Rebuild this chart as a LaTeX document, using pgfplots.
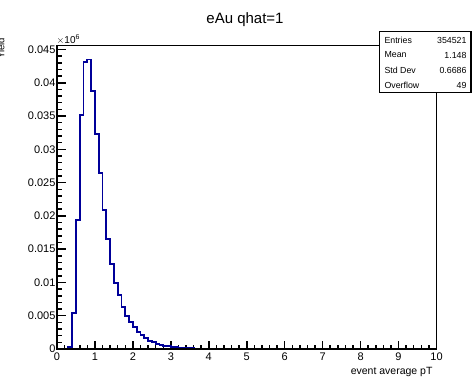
\documentclass[border=0pt]{standalone}
\usepackage{fontspec}
\setmainfont{Liberation Sans}
\usepackage{pgfplots}
\pgfplotsset{compat=1.18}
\definecolor{histblue}{RGB}{0,0,153}
\begin{document}
\begin{tikzpicture}[x=1pt,y=1pt]
\path[use as bounding box] (0,0) rectangle (473,378);
\clip (0,0) rectangle (473,378);
\begin{axis}[
  at={(57pt,29pt)}, anchor=south west,
  scale only axis, width=379.5pt, height=303.5pt,
  xmin=0, xmax=10, ymin=0, ymax=0.0456,
  xtick={0,1,...,10},
  ytick={0,0.005,0.01,0.015,0.02,0.025,0.03,0.035,0.04,0.045},
  yticklabels={0,0.005,0.01,0.015,0.02,0.025,0.03,0.035,0.04,0.045},
  minor x tick num=4, minor y tick num=4,
  xtick pos=bottom, ytick pos=left,
  tick align=inside,
  major tick length=8.5pt, minor tick length=4.5pt,
  every tick/.style={line width=1.5pt, black},
  tick label style={font=\fontsize{11}{13}\selectfont},
  /pgf/number format/assume math mode=true,
  xticklabel style={yshift=0pt},
  yticklabel style={xshift=2pt},
  scaled y ticks=false,
  clip=false,
]
\addplot[histblue, line width=1.8pt, const plot mark left] coordinates {
(0.0,0) (0.1,0) (0.2,0) (0.3,0.00025) (0.4,0.0054) (0.5,0.0194) (0.6,0.0352) (0.7,0.0431) (0.8,0.0435) (0.9,0.0388)
(1.0,0.0323) (1.1,0.0265) (1.2,0.0209) (1.3,0.0165) (1.4,0.0128) (1.5,0.0099) (1.6,0.0081) (1.7,0.0063) (1.8,0.0049) (1.9,0.0040)
(2.0,0.0033) (2.1,0.0025) (2.2,0.0021) (2.3,0.0016) (2.4,0.00125) (2.5,0.0010) (2.6,0.0008) (2.7,0.00065) (2.8,0.0005) (2.9,0.0004)
(3.0,0.00032) (3.1,0.00026) (3.2,0.00021) (3.3,0.00017) (3.4,0.00014) (3.5,0.00011) (3.6,0.00009) (3.7,0.00007) (3.8,0.00006) (3.9,0.00005)
(4.0,0.00004) (4.1,0.000035) (4.2,0.00003) (4.3,0.000025) (4.4,0.00002) (4.5,0.000017) (4.6,0.000015) (4.7,0.000012) (4.8,0.00001) (4.9,0.000009)
(5.0,0.000008) (5.1,0.000007) (5.2,0.000006) (5.3,0.000005) (5.4,0.000005) (5.5,0.000004) (5.6,0.000004) (5.7,0.000003) (5.8,0.000003) (5.9,0.000002)
(6.0,0.000002) (6.1,0.000002) (6.2,0.000001) (6.3,0.000001) (6.4,0.000001) (6.5,0.000001) (6.6,0.000001) (6.7,0.000001) (6.8,0) (6.9,0)
(7.0,0) (7.1,0) (7.2,0) (7.3,0) (7.4,0) (7.5,0) (7.6,0) (7.7,0) (7.8,0) (7.9,0)
(8.0,0) (8.1,0) (8.2,0) (8.3,0) (8.4,0) (8.5,0) (8.6,0) (8.7,0) (8.8,0) (8.9,0)
(9.0,0) (9.1,0) (9.2,0) (9.3,0) (9.4,0) (9.5,0) (9.6,0) (9.7,0) (9.8,0) (9.9,0)
(10.0,0)
};
\draw[black, line width=1.9pt] (axis cs:0,0) rectangle (axis cs:10,0.0456);
\end{axis}
% title
\node[font=\fontsize{15}{18}\selectfont] at (245,358) {eAu qhat=1};
% x label
\node[anchor=base east, font=\fontsize{10.5}{12}\selectfont] at (436,4) {event average pT};
% y label (cut by canvas edge, as in the reference)
\node[rotate=90, anchor=base east, inner sep=0pt, font=\fontsize{9.5}{11}\selectfont] at (4.5,340) {Yield};
% exponent
\node[anchor=base west, inner sep=0pt, font=\fontsize{10}{12}\selectfont] at (56.5,334.7) {$\times$10\textsuperscript{6}};
% stats box
\fill[white] (379,285.3) rectangle (471,346.3);
\draw[line width=0.8pt] (379,285.3) rectangle (471,346.3);
\draw[line width=1.6pt] (379.5,285.3) -- (471,285.3) -- (471,346);
\begin{scope}[font=\fontsize{8.8}{10}\selectfont]
\node[anchor=west] at (381,337.3) {Entries};
\node[anchor=east] at (470,337.3) {354521};
\node[anchor=west] at (381,323) {Mean};
\node[anchor=east] at (470,323) {1.148};
\node[anchor=west] at (381,308) {Std Dev};
\node[anchor=east] at (470,308) {0.6686};
\node[anchor=west] at (381,293) {Overflow};
\node[anchor=east] at (470,293) {49};
\end{scope}
\end{tikzpicture}
\end{document}
